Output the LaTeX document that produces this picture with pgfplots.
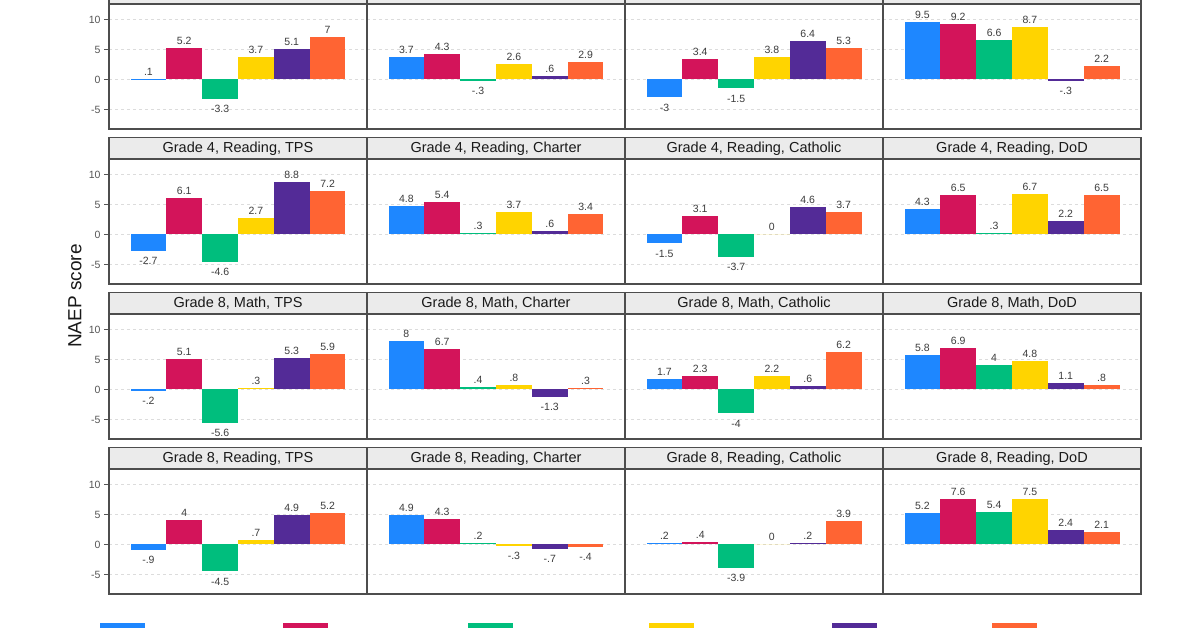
\documentclass[border=0pt]{standalone}
\usepackage{pgfplots}
\pgfplotsset{compat=1.18}
\usepackage{fontspec}
\setmainfont{Liberation Sans}

\definecolor{sBlue}{HTML}{1E87FF}
\definecolor{sRed}{HTML}{D3145A}
\definecolor{sGreen}{HTML}{00BE7D}
\definecolor{sYellow}{HTML}{FFD400}
\definecolor{sPurple}{HTML}{532B97}
\definecolor{sOrange}{HTML}{FF6433}
\definecolor{gridgrey}{HTML}{DCDCDC}
\definecolor{framegrey}{HTML}{4D4D4D}
\definecolor{stripgrey}{HTML}{EBEBEB}
\definecolor{labelgrey}{HTML}{3C3C3C}
\definecolor{tickgrey}{HTML}{555555}

% one panel = six bars, one per series
\newcommand{\six}[6]{%
  \addplot[fill=sBlue, draw=none] coordinates {(1,#1)};
  \addplot[fill=sRed, draw=none] coordinates {(2,#2)};
  \addplot[fill=sGreen, draw=none] coordinates {(3,#3)};
  \addplot[fill=sYellow, draw=none] coordinates {(4,#4)};
  \addplot[fill=sPurple, draw=none] coordinates {(5,#5)};
  \addplot[fill=sOrange, draw=none] coordinates {(6,#6)};
}

\pgfplotsset{
  panel/.style={
    width=258pt, height=124.5pt, scale only axis, anchor=south west,
    xmin=-0.1, xmax=7.1, ymin=-8.25, ymax=12.5,
    xtick=\empty, ytick={-5,0,5,10},
    ymajorgrids, grid style={gridgrey, dashed, line width=0.6pt},
    axis line style={framegrey, line width=1.3pt},
    ybar, bar width=1, bar shift=0pt,
    nodes near coords,
    every node near coord/.append style={font=\fontsize{10.5}{12}\selectfont,
      text=labelgrey, text height=10pt},
    /pgf/number format/fixed, /pgf/number format/precision=1,
    /pgf/number format/skip 0., /pgf/number format/assume math mode=true,
    every axis title/.style={at={(0.5,1)}, anchor=south, fill=stripgrey,
      draw=framegrey, line width=1.3pt, minimum width=258pt,
      minimum height=21pt, inner sep=0pt,
      font=\fontsize{14.5}{16}\selectfont, text=black!90},
    yticklabels={}, major tick length=0pt,
  },
  leftpanel/.style={
    panel,
    yticklabels={-5,0,5,10},
    yticklabel style={font=\fontsize{10.5}{12}\selectfont, text=tickgrey},
    major tick length=5pt, tick align=outside, ytick pos=left,
    tick style={tickgrey, line width=0.6pt},
  },
}

\begin{document}
\begin{tikzpicture}
\useasboundingbox (0,0) rectangle (1200pt,628pt);
\clip (0,0) rectangle (1200pt,628pt);

% row 1: Grade 4, Math
\begin{axis}[leftpanel, at={(109pt,499pt)}, title={Grade 4, Math, TPS}]
\six{0.1}{5.2}{-3.3}{3.7}{5.1}{7}
\end{axis}
\begin{axis}[panel, at={(367pt,499pt)}, title={Grade 4, Math, Charter}]
\six{3.7}{4.3}{-0.3}{2.6}{0.6}{2.9}
\end{axis}
\begin{axis}[panel, at={(625pt,499pt)}, title={Grade 4, Math, Catholic}]
\six{-3}{3.4}{-1.5}{3.8}{6.4}{5.3}
\end{axis}
\begin{axis}[panel, at={(883pt,499pt)}, title={Grade 4, Math, DoD}]
\six{9.5}{9.2}{6.6}{8.7}{-0.3}{2.2}
\end{axis}

% row 2: Grade 4, Reading
\begin{axis}[leftpanel, at={(109pt,344pt)}, title={Grade 4, Reading, TPS}]
\six{-2.7}{6.1}{-4.6}{2.7}{8.8}{7.2}
\end{axis}
\begin{axis}[panel, at={(367pt,344pt)}, title={Grade 4, Reading, Charter}]
\six{4.8}{5.4}{0.3}{3.7}{0.6}{3.4}
\end{axis}
\begin{axis}[panel, at={(625pt,344pt)}, title={Grade 4, Reading, Catholic}]
\six{-1.5}{3.1}{-3.7}{0}{4.6}{3.7}
\end{axis}
\begin{axis}[panel, at={(883pt,344pt)}, title={Grade 4, Reading, DoD}]
\six{4.3}{6.5}{0.3}{6.7}{2.2}{6.5}
\end{axis}

% row 3: Grade 8, Math
\begin{axis}[leftpanel, at={(109pt,189pt)}, title={Grade 8, Math, TPS}]
\six{-0.2}{5.1}{-5.6}{0.3}{5.3}{5.9}
\end{axis}
\begin{axis}[panel, at={(367pt,189pt)}, title={Grade 8, Math, Charter}]
\six{8}{6.7}{0.4}{0.8}{-1.3}{0.3}
\end{axis}
\begin{axis}[panel, at={(625pt,189pt)}, title={Grade 8, Math, Catholic}]
\six{1.7}{2.3}{-4}{2.2}{0.6}{6.2}
\end{axis}
\begin{axis}[panel, at={(883pt,189pt)}, title={Grade 8, Math, DoD}]
\six{5.8}{6.9}{4}{4.8}{1.1}{0.8}
\end{axis}

% row 4: Grade 8, Reading (legend hangs below, cut by the page edge)
\begin{axis}[leftpanel, at={(109pt,34pt)}, title={Grade 8, Reading, TPS},
  legend columns=6,
  legend style={at={(-0.0349,-0.2249)}, anchor=north west, draw=none,
    fill=none, inner sep=0pt, column sep=0pt,
    nodes={inner sep=0pt, text depth=0pt}},
  legend image code/.code={\fill[#1] (0pt,-12pt) rectangle (45pt,0pt);}]
\six{-0.9}{4}{-4.5}{0.7}{4.9}{5.2}
\legend{\makebox[138pt]{},\makebox[140pt]{},\makebox[136pt]{},
  \makebox[138pt]{},\makebox[115pt]{},\makebox[50pt]{}}
\end{axis}
\begin{axis}[panel, at={(367pt,34pt)}, title={Grade 8, Reading, Charter}]
\six{4.9}{4.3}{0.2}{-0.3}{-0.7}{-0.4}
\end{axis}
\begin{axis}[panel, at={(625pt,34pt)}, title={Grade 8, Reading, Catholic}]
\six{0.2}{0.4}{-3.9}{0}{0.2}{3.9}
\end{axis}
\begin{axis}[panel, at={(883pt,34pt)}, title={Grade 8, Reading, DoD}]
\six{5.2}{7.6}{5.4}{7.5}{2.4}{2.1}
\end{axis}

\node[rotate=90, font=\fontsize{19}{22}\selectfont, text=black!90]
  at (75pt,332pt) {NAEP score};
\end{tikzpicture}
\end{document}
